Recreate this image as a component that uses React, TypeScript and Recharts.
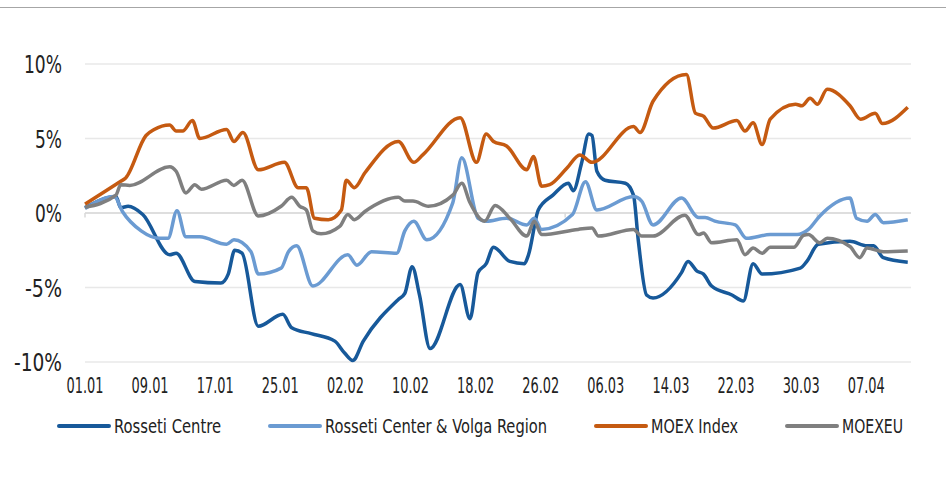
import { CartesianGrid, Line, LineChart, ReferenceLine, XAxis, YAxis } from "recharts";

const FONT = "'Liberation Sans Narrow', 'DejaVu Sans Condensed', 'Liberation Sans', sans-serif";

// x axis: days since 01.01, a label every 8 days
const dateLabels = ["01.01", "09.01", "17.01", "25.01", "02.02", "10.02", "18.02", "26.02", "06.03", "14.03", "22.03", "30.03", "07.04"];
const labelStep = 8;
const monthStarts = [0, 31, 59, 90];
const yTicks = [-10, -5, 0, 5, 10];

// Rosseti Centre
const centreDays = [0, 3.8, 4.4, 5.3, 7.1, 10.4, 11.2, 13.5, 16.7, 17.6, 18.4, 19.3, 21.3, 24.3, 25.4, 27.8, 30.7, 31.9, 32.9, 34.2, 38.5, 39.3, 40.2, 41.1, 42.4, 46.1, 47.3, 48.3, 49.3, 50.2, 52.2, 54.0, 54.5, 55.7, 57.5, 59.4, 60.0, 61.0, 61.9, 62.3, 62.9, 63.9, 66.4, 67.4, 68.0, 69.0, 69.8, 73.3, 74.1, 75.2, 76.0, 77.0, 79.5, 80.9, 82.1, 83.2, 87.9, 88.7, 90.1, 94.0, 96.1, 96.9, 98.1, 101.1];
const centreVals = [0.35, 1.1, 0.35, 0.45, -0.1, -2.8, -2.7, -4.6, -4.7, -4.1, -2.5, -2.7, -7.6, -6.8, -7.7, -8.1, -8.6, -9.4, -9.9, -8.6, -5.8, -5.4, -3.6, -5.5, -9.1, -4.8, -7.1, -4.0, -3.4, -2.3, -3.25, -3.4, -2.8, 0.2, 1.2, 2.0, 1.5, 3.3, 5.3, 5.2, 2.8, 2.2, 2.0, 1.2, -1.9, -5.5, -5.7, -4.0, -3.25, -3.9, -4.1, -4.9, -5.5, -5.9, -3.4, -4.1, -3.7, -3.25, -2.1, -1.9, -2.2, -2.2, -3.0, -3.3];

// Rosseti Center & Volga Region
const volgaDays = [0, 3.6, 4.6, 6.9, 9.2, 10.2, 11.3, 12.4, 14.1, 17.4, 18.3, 20.4, 21.3, 24.1, 25.0, 26.0, 28.0, 32.3, 33.4, 35.2, 38.3, 39.3, 40.4, 42.0, 45.2, 46.3, 48.3, 49.3, 51.8, 54.3, 55.2, 56.1, 59.9, 61.5, 62.9, 67.4, 68.4, 69.8, 73.3, 75.4, 76.2, 77.4, 79.9, 81.3, 84.2, 87.5, 88.9, 90.3, 94.0, 94.8, 96.1, 97.1, 98.1, 101.1];
const volgaVals = [0.3, 1.1, 0.1, -1.2, -1.7, -1.7, 0.15, -1.6, -1.6, -2.1, -1.8, -2.6, -4.1, -3.7, -2.6, -2.2, -4.9, -2.8, -3.5, -2.6, -2.7, -1.2, -0.55, -1.8, 0.7, 3.7, -0.35, -0.55, -0.35, -0.8, -0.35, -1.1, -0.1, 2.1, 0.2, 1.1, 0.8, -0.8, 1.0, -0.3, -0.3, -0.55, -0.8, -1.7, -1.45, -1.45, -1.1, -0.2, 1.0, -0.35, -0.55, -0.1, -0.65, -0.45];

// MOEX Index
const moexDays = [0, 4.3, 5, 7.5, 8.5, 10.4, 11.2, 12, 13.2, 14.1, 17.4, 18.3, 19.4, 21.3, 24.5, 26.2, 27.2, 28.2, 29.9, 31.5, 32.1, 33.1, 34.4, 38.5, 40.4, 41.5, 46.1, 48.1, 49.3, 50.2, 51.8, 54.3, 55.1, 56.1, 57.1, 59.2, 60.8, 62.3, 67.4, 68.2, 69.8, 73.9, 75.0, 76.0, 77.2, 80.1, 81.1, 82.1, 83.2, 84.2, 87.3, 88.1, 89.1, 90.0, 91.2, 94.0, 95.3, 97.1, 98.0, 101.1];
const moexVals = [0.6, 2.1, 2.35, 5.2, 5.6, 5.9, 5.5, 5.5, 6.2, 5.0, 5.6, 4.8, 5.4, 2.9, 3.4, 1.7, 1.7, -0.35, -0.45, 0.2, 2.2, 1.7, 2.7, 4.8, 3.4, 3.9, 6.4, 3.4, 5.3, 4.8, 4.5, 2.9, 3.8, 1.8, 1.9, 3.0, 3.9, 3.4, 5.8, 5.4, 7.5, 9.3, 6.7, 6.5, 5.7, 6.2, 5.5, 6.05, 4.6, 6.3, 7.3, 7.2, 7.7, 7.3, 8.3, 7.2, 6.3, 6.7, 6.0, 7.1];

// MOEXEU
const moexeuDays = [0, 3.8, 4.4, 5.5, 10.4, 11.2, 12.4, 13.5, 14.3, 17.4, 18.3, 19.3, 21.3, 24.1, 25.4, 26.4, 27.2, 28.0, 29.0, 31.3, 32.3, 33.1, 34.4, 38.5, 39.3, 40.3, 42.2, 45.2, 46.3, 47.3, 49.1, 50.4, 52.2, 54.3, 55.2, 56.1, 60.6, 62.3, 63.1, 67.4, 68.4, 69.8, 73.7, 75.4, 76.0, 77.0, 80.1, 81.1, 82.1, 83.2, 84.2, 87.1, 88.3, 88.9, 90.3, 91.2, 94.0, 95.2, 96.1, 98.1, 101.1];
const moexeuVals = [0.38, 1.2, 1.9, 1.85, 3.1, 2.8, 1.35, 1.9, 1.6, 2.2, 1.85, 2.2, -0.2, 0.45, 1.05, 0.45, 0.2, -1.2, -1.4, -0.9, -0.1, -0.45, 0.1, 1.05, 0.8, 0.8, 0.45, 1.2, 2.0, 0.7, -0.55, 0.5, -0.35, -1.55, -0.55, -1.45, -1.1, -1.0, -1.55, -1.1, -1.55, -1.55, -0.15, -1.45, -1.35, -2.0, -1.8, -2.8, -2.35, -2.7, -2.3, -2.3, -1.5, -1.45, -2.0, -1.7, -2.25, -3.0, -2.35, -2.6, -2.55];

const toPoints = (days: number[], vals: number[]) => days.map((d, i) => ({ d, v: vals[i] }));

const series = [
  { name: "Rosseti Centre", color: "#17599a", data: toPoints(centreDays, centreVals), textW: 107 },
  { name: "Rosseti Center & Volga Region", color: "#6b9bd2", data: toPoints(volgaDays, volgaVals), textW: 222 },
  { name: "MOEX Index", color: "#c55a11", data: toPoints(moexDays, moexVals), textW: 87 },
  { name: "MOEXEU", color: "#7f7f7f", data: toPoints(moexeuDays, moexeuVals), textW: 61 },
];

// condensed look: squeeze the fallback font to the label widths of the original
const yLabelWidth: Record<string, number> = { "10%": 38, "5%": 27, "0%": 27, "-5%": 37, "-10%": 48 };

function XTick({ x, y, payload }: any) {
  return (
    <text x={x} y={y + 31} textAnchor="middle" fontSize={21} fill="#222" fontFamily={FONT} textLength={37} lengthAdjust="spacingAndGlyphs">
      {dateLabels[Math.round(payload.value / labelStep)]}
    </text>
  );
}

function YTick({ x, y, payload }: any) {
  const label = `${payload.value}%`;
  return (
    <text x={x - 23} y={y + 9} textAnchor="end" fontSize={24} fill="#222" fontFamily={FONT} textLength={yLabelWidth[label]} lengthAdjust="spacingAndGlyphs">
      {label}
    </text>
  );
}

function Legend() {
  let cx = 57;
  const items = series.map((s) => {
    const x0 = cx;
    cx += 54 + 3 + s.textW + 47;
    return (
      <g key={s.name}>
        <line x1={x0 + 2} x2={x0 + 52} y1={426} y2={426} stroke={s.color} strokeWidth={4} strokeLinecap="round" />
        <text x={x0 + 57} y={433} fontSize={20} fill="#222" fontFamily={FONT} textLength={s.textW} lengthAdjust="spacingAndGlyphs">
          {s.name}
        </text>
      </g>
    );
  });
  return (
    <svg width={946} height={492} style={{ position: "absolute", left: 0, top: 0, pointerEvents: "none" }}>
      {items}
    </svg>
  );
}

export default function App() {
  return (
    <div style={{ position: "relative", width: 946, height: 492, background: "#fff", overflow: "hidden" }}>
      <style>{`body{margin:0}`}</style>
      <div style={{ position: "absolute", left: 0, right: 0, top: 7, borderTop: "1px solid #a6a6a6" }} />
      <div style={{ position: "absolute", left: 0, top: 0 }}>
        <LineChart width={946} height={400} margin={{ top: 64, right: 35, bottom: 8, left: 0 }}>
          <CartesianGrid horizontal vertical={false} stroke="#e8e8e8" strokeWidth={1.5} />
          <XAxis
            type="number"
            dataKey="d"
            domain={[0, 101.5]}
            ticks={dateLabels.map((_, i) => i * labelStep)}
            axisLine={false}
            tickLine={false}
            tickSize={0}
            tickMargin={0}
            height={30}
            tick={<XTick />}
            interval={0}
          />
          <YAxis
            type="number"
            domain={[-10, 10]}
            ticks={yTicks}
            axisLine={false}
            tickLine={false}
            tickSize={0}
            tickMargin={0}
            width={85}
            tick={<YTick />}
            interval={0}
          />
          <ReferenceLine y={0} stroke="#d9d9d9" strokeWidth={1.5} />
          {monthStarts.map((m) => (
            <ReferenceLine key={m} segment={[{ x: m, y: 0 }, { x: m, y: -0.3 }]} stroke="#d9d9d9" strokeWidth={1.5} />
          ))}
          {series.map((s) => (
            <Line
              key={s.name}
              data={s.data}
              dataKey="v"
              name={s.name}
              type="monotone"
              stroke={s.color}
              strokeWidth={3.5}
              dot={false}
              activeDot={false}
              isAnimationActive={false}
            />
          ))}
        </LineChart>
      </div>
      <Legend />
    </div>
  );
}
